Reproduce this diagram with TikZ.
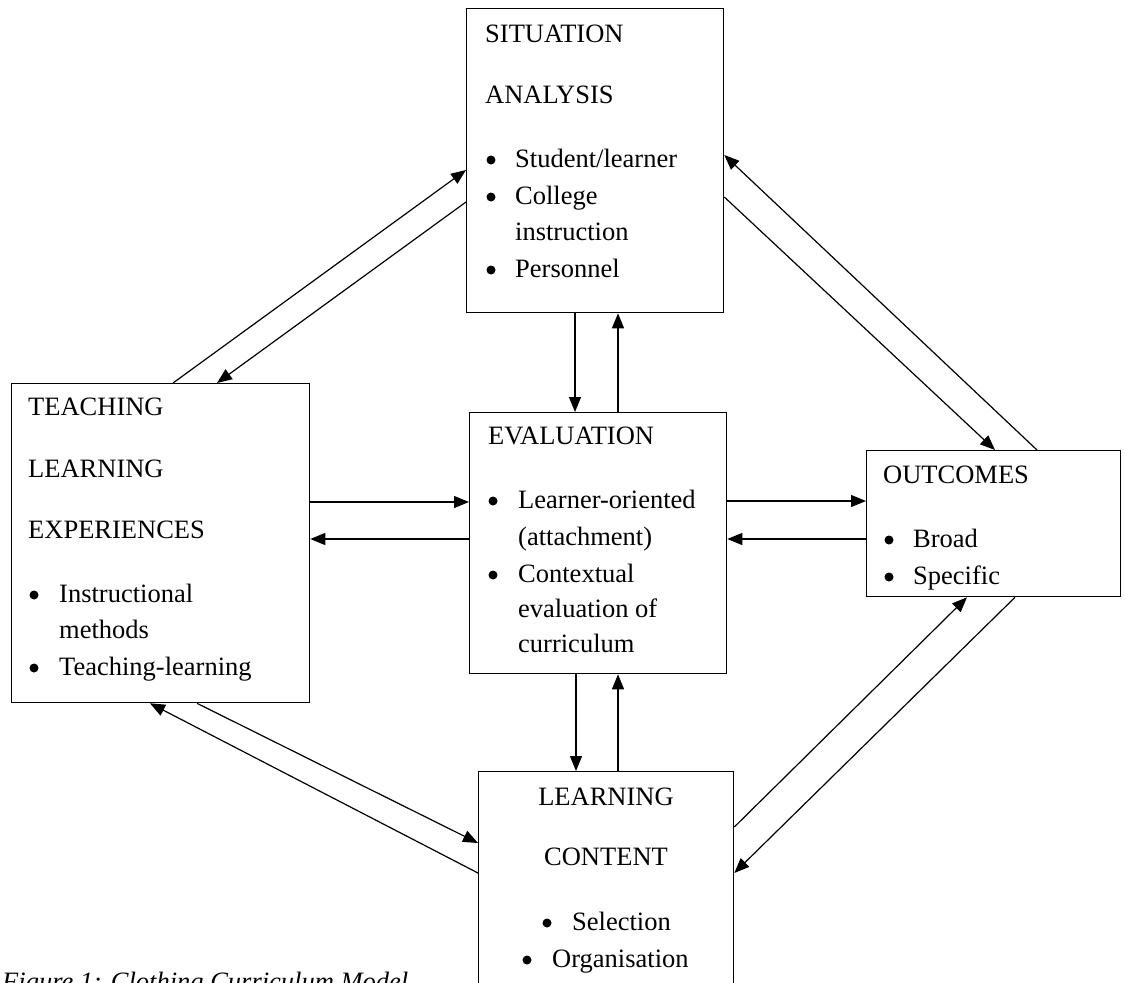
\documentclass[tikz,border=0pt]{standalone}
\usepackage{fontspec}
\setmainfont{Liberation Serif}
\usetikzlibrary{arrows.meta,calc}

\tikzset{
  box/.style={draw, line width=1.3pt, anchor=north west, inner sep=0pt, minimum width=#1},
  txt/.style={anchor=base west, inner sep=0pt, font=\fontsize{26.5}{30}\selectfont},
  ctr/.style={anchor=base, inner sep=0pt, font=\fontsize{26.5}{30}\selectfont},
  dot/.style={circle, fill, inner sep=0pt, minimum size=9pt, yshift=7pt},
  arr/.style={line width=1.2pt, -{Triangle[length=15pt,width=12pt]}},
}

\begin{document}
\begin{tikzpicture}[x=1pt, y=-1pt]
\useasboundingbox (0,0) rectangle (1125,983);

% --- boxes ---
\node[box=257pt, minimum height=304pt] (sit)   at (466,8)   {};
\node[box=298pt, minimum height=319pt] (teach) at (11,383)  {};
\node[box=257pt, minimum height=261pt] (eval)  at (469,412) {};
\node[box=254pt, minimum height=146pt] (out)   at (866,450) {};
\node[box=255pt, minimum height=250pt] (lc)    at (478,771) {};

% --- situation analysis ---
\node[txt] (s1) at (485,42)  {SITUATION};
\node[txt] (s2) at (485,103) {ANALYSIS};
\node[dot] (sb1) at (491,167) {};
\node[txt] (s3) at (515,167) {Student/learner};
\node[dot] (sb2) at (491,204) {};
\node[txt] (s4) at (515,204) {College};
\node[txt] (s5) at (515,240) {instruction};
\node[dot] (sb3) at (491,277) {};
\node[txt] (s6) at (515,277) {Personnel};

% --- teaching learning experiences ---
\node[txt] (t1) at (28,415) {TEACHING};
\node[txt] (t2) at (28,477) {LEARNING};
\node[txt] (t3) at (28,538) {EXPERIENCES};
\node[dot] (tb1) at (34,602) {};
\node[txt] (t4) at (59,602) {Instructional};
\node[txt] (t5) at (59,638) {methods};
\node[dot] (tb2) at (34,675) {};
\node[txt] (t6) at (59,675) {Teaching-learning};

% --- evaluation ---
\node[txt] (e1) at (488,444) {EVALUATION};
\node[dot] (eb1) at (493,508) {};
\node[txt] (e2) at (518,508) {Learner-oriented};
\node[txt] (e3) at (518,545) {(attachment)};
\node[dot] (eb2) at (493,582) {};
\node[txt] (e4) at (518,582) {Contextual};
\node[txt] (e5) at (518,617) {evaluation of};
\node[txt] (e6) at (518,652) {curriculum};

% --- outcomes ---
\node[txt] (o1) at (883,483) {OUTCOMES};
\node[dot] (ob1) at (889,547) {};
\node[txt] (o2) at (913,547) {Broad};
\node[dot] (ob2) at (889,584) {};
\node[txt] (o3) at (913,584) {Specific};

% --- learning content ---
\node[ctr] (l1) at (606,805) {LEARNING};
\node[ctr] (l2) at (606,865) {CONTENT};
\node[dot] (lb1) at (547,930) {};
\node[txt] (l3) at (572,930) {Selection};
\node[dot] (lb2) at (527,967) {};
\node[txt] (l4) at (552,967) {Organisation};

% --- caption ---
\node[anchor=base west, inner sep=0pt, font=\fontsize{26.5}{30}\selectfont\itshape] (cap) at (2,990)
  {Figure 1: Clothing Curriculum Model};

% --- connectors: situation <-> teaching ---
\draw[arr] ($(teach.north west)+(162,0)$) -- ($(sit.north west)+(0,162)$);
\draw[arr] ($(sit.north west)+(0,194)$) -- ($(teach.north west)+(206,0)$);

% --- situation <-> outcomes ---
\draw[arr] ($(out.north west)+(171,0)$) -- ($(sit.north east)+(0,147)$);
\draw[arr] ($(sit.north east)+(0,189)$) -- ($(out.north west)+(129,0)$);

% --- situation <-> evaluation ---
\coordinate (sd) at ($(sit.south west)+(109,0)$);
\draw[arr] (sd) -- (sd |- eval.north);
\coordinate (eu) at ($(eval.north west)+(149,0)$);
\draw[arr] (eu) -- (eu |- sit.south);

% --- teaching <-> evaluation ---
\coordinate (te) at ($(teach.north east)+(0,119)$);
\draw[arr] (te) -- (te -| eval.west);
\coordinate (et) at ($(eval.north west)+(0,127)$);
\draw[arr] (et) -- (et -| teach.east);

% --- evaluation <-> outcomes ---
\coordinate (eo) at ($(eval.north east)+(0,89)$);
\draw[arr] (eo) -- (eo -| out.west);
\coordinate (oe) at ($(out.north west)+(0,89)$);
\draw[arr] (oe) -- (oe -| eval.east);

% --- evaluation <-> learning content ---
\coordinate (ed) at ($(eval.south west)+(107,0)$);
\draw[arr] (ed) -- (ed |- lc.north);
\coordinate (lu) at ($(lc.north west)+(140,0)$);
\draw[arr] (lu) -- (lu |- eval.south);

% --- teaching <-> learning content ---
\draw[arr] ($(teach.south west)+(186,0)$) -- ($(lc.north west)+(0,72)$);
\draw[arr] ($(lc.north west)+(0,102)$) -- ($(teach.south west)+(139,0)$);

% --- learning content <-> outcomes ---
\draw[arr] ($(lc.north east)+(0,56)$) -- ($(out.south west)+(101,0)$);
\draw[arr] ($(out.south west)+(149,0)$) -- ($(lc.north east)+(0,102)$);
\end{tikzpicture}
\end{document}
